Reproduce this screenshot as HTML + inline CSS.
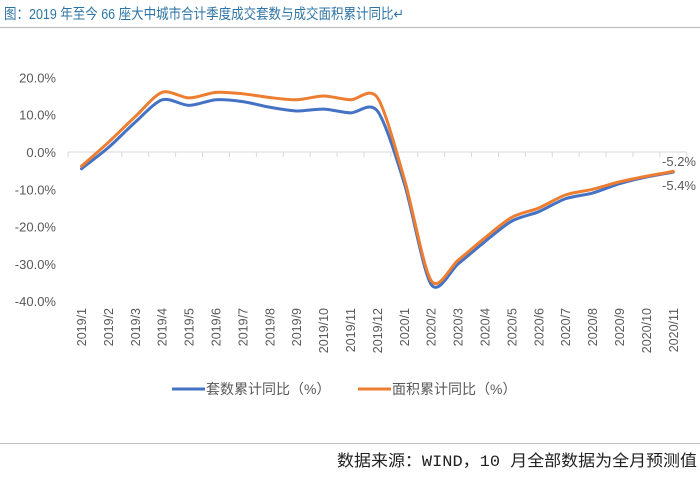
<!DOCTYPE html>
<html><head><meta charset="utf-8"><style>
body{margin:0;background:#fff;width:700px;height:472px;overflow:hidden;font-family:"Liberation Sans","Noto Sans CJK SC",sans-serif}
</style></head><body>
<svg width="700" height="472" viewBox="0 0 700 472" xmlns="http://www.w3.org/2000/svg">
<text x="4" y="19" font-size="14.5" fill="#2e75a6" textLength="400" lengthAdjust="spacingAndGlyphs" font-family="Liberation Sans, Noto Sans CJK SC, sans-serif">图：2019 年至今 66 座大中城市合计季度成交套数与成交面积累计同比↵</text>
<line x1="0" y1="27.5" x2="700" y2="27.5" stroke="#bfbfbf" stroke-width="1.2"/>
<g id="yaxis"></g>
<g id="xaxis"></g>
<g id="series"></g>
<text x="696" y="166" text-anchor="end" font-size="13" fill="#595959">-5.2%</text>
<text x="696" y="190" text-anchor="end" font-size="13" fill="#595959">-5.4%</text>
<g>
<line x1="172" y1="389" x2="205" y2="389" stroke="#4472c4" stroke-width="3"/>
<text x="206" y="394" font-size="14" fill="#595959">套数累计同比（%）</text>
<line x1="358" y1="389" x2="391" y2="389" stroke="#ed7d31" stroke-width="3"/>
<text x="392" y="394" font-size="14" fill="#595959">面积累计同比（%）</text>
</g>
<line x1="0" y1="443.5" x2="700" y2="443.5" stroke="#bfbfbf" stroke-width="1"/>
<text x="337" y="466" font-size="16" fill="#222" textLength="360" lengthAdjust="spacingAndGlyphs" font-family="Liberation Mono, Noto Sans CJK SC, monospace">数据来源：WIND，10 月全部数据为全月预测值</text>
</svg>
<script>
const categories=["2019/1","2019/2","2019/3","2019/4","2019/5","2019/6","2019/7","2019/8","2019/9","2019/10","2019/11","2019/12","2020/1","2020/2","2020/3","2020/4","2020/5","2020/6","2020/7","2020/8","2020/9","2020/10","2020/11"];
const countValues=[-4.5,1.2,8,14,12.5,14,13.5,12,11,11.5,10.5,11,-8.4,-35.5,-30,-24,-18.5,-16,-12.5,-11,-8.5,-6.7,-5.4];
const areaValues=[-3.8,2.6,9.5,16,14.5,16,15.6,14.6,14,15,14,14.6,-7.2,-34.5,-29,-23,-17.5,-15,-11.5,-10,-8,-6.5,-5.2];
const yTicks=[20,10,0,-10,-20,-30,-40];
const NS="http://www.w3.org/2000/svg";
const x0=81.5,dx=26.9,yZero=152,yScale=3.73;
function xPos(i){return x0+i*dx;}
function yPos(v){return yZero-v*yScale;}
function mk(tag,attrs,parent){const e=document.createElementNS(NS,tag);for(const k in attrs)e.setAttribute(k,attrs[k]);parent.appendChild(e);return e;}
const ya=document.getElementById('yaxis'),xa=document.getElementById('xaxis'),sg=document.getElementById('series');
yTicks.forEach(t=>{const el=mk('text',{x:56,y:yPos(t)+5,'text-anchor':'end','font-size':13,fill:'#595959'},ya);el.textContent=t.toFixed(1)+'%';

});
const base=mk('line',{x1:xPos(0)-dx/2,x2:xPos(categories.length-1)+dx/2,y1:yZero,y2:yZero,stroke:'#d9d9d9','stroke-width':1},xa);


for(let i=0;i<=categories.length;i++){const tk=mk('line',{x1:xPos(i)-dx/2,x2:xPos(i)-dx/2,y1:yZero,y2:yZero+5,stroke:'#d9d9d9'},xa);

}
categories.forEach((c,i)=>{const el=mk('text',{x:0,y:0,'text-anchor':'end','font-size':12.5,fill:'#595959',transform:`translate(${xPos(i)+4.5},308) rotate(-90)`},xa);el.textContent=c;

});
function smooth(vals){const p=vals.map((v,i)=>[xPos(i),yPos(v)]);let d=`M${p[0][0]},${p[0][1]}`;
for(let i=0;i<p.length-1;i++){const a=p[Math.max(0,i-1)],b=p[i],c=p[i+1],e=p[Math.min(p.length-1,i+2)],t=7;
d+=` C${b[0]+(c[0]-a[0])/t},${b[1]+(c[1]-a[1])/t} ${c[0]-(e[0]-b[0])/t},${c[1]-(e[1]-b[1])/t} ${c[0]},${c[1]}`;}return d;}
const lc=mk('path',{d:smooth(countValues),fill:'none',stroke:'#4472c4','stroke-width':3,'stroke-linecap':'round'},sg);


const la=mk('path',{d:smooth(areaValues),fill:'none',stroke:'#ed7d31','stroke-width':3,'stroke-linecap':'round'},sg);


</script>
</body></html>
